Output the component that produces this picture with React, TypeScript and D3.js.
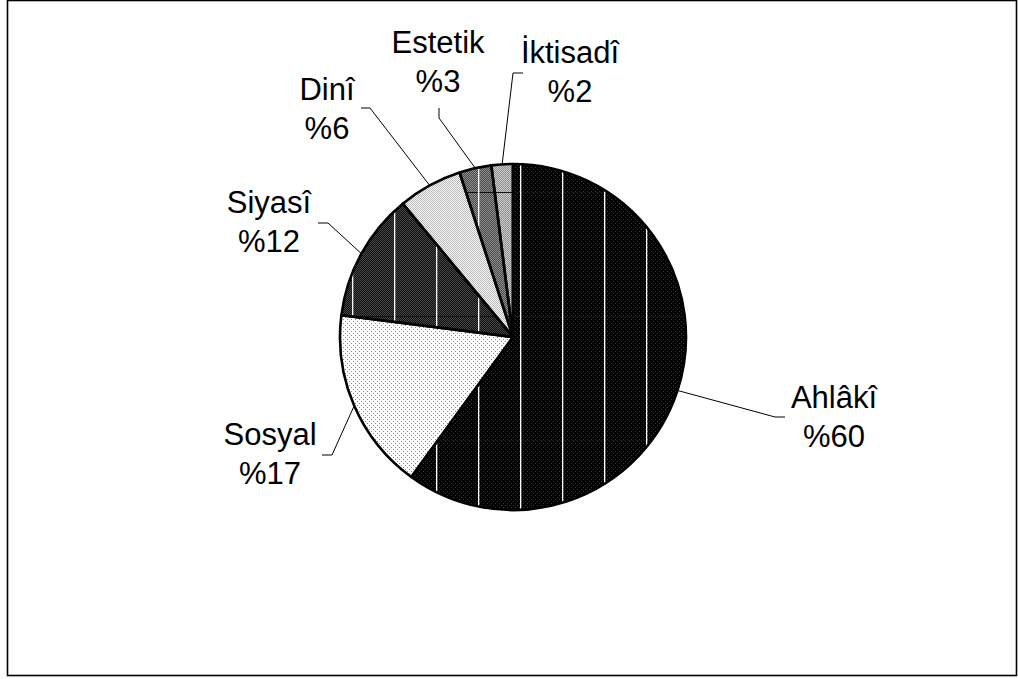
import React, { useEffect, useRef } from 'react';
import * as d3 from 'd3';

const width = 1018;
const height = 679;
const center = { x: 513, y: 337 };
const radius = 173;

// slice data, clockwise from 12 o'clock
const categories = ['Ahlâkî', 'Sosyal', 'Siyasî', 'Dinî', 'Estetik', 'İktisadî'];
const values = [60, 17, 12, 6, 3, 2];
const valueLabels = ['%60', '%17', '%12', '%6', '%3', '%2'];

// fills: base colour + dot colour, tile type
const fills = [
  { base: '#000', dot: '#3c3c3c', kind: 'dots' },
  { base: '#fff', dot: '#8a8a8a', kind: 'dots' },
  { base: '#0e0e0e', dot: '#484848', kind: 'check' },
  { base: '#fafafa', dot: '#b8b8b8', kind: 'check' },
  { base: '#4a4a4a', dot: '#8e8e8e', kind: 'check' },
  { base: '#8c8c8c', dot: '#cfcfcf', kind: 'check' },
];
const striped = [true, false, true, false, true, true];

// label layout: text centre, first baseline, leader elbow and end
const labelLayout = [
  { x: 834, y: 408, bend: [775, 417], end: [785, 417] },
  { x: 270, y: 445, bend: [332, 455], end: [322, 455] },
  { x: 269, y: 213, bend: [328, 223], end: [318, 223] },
  { x: 327, y: 100, bend: [370, 108], end: [361, 108] },
  { x: 438, y: 53, bend: [439, 118], end: [439, 108] },
  { x: 570, y: 63, bend: [513, 73], end: [523, 73] },
];

export default function App() {
  const ref = useRef<SVGSVGElement>(null);

  useEffect(() => {
    const svg = d3.select(ref.current);
    svg.selectAll('*').remove();
    const defs = svg.append('defs');

    fills.forEach((f, i) => {
      const p = defs.append('pattern')
        .attr('id', 'fill' + i)
        .attr('patternUnits', 'userSpaceOnUse')
        .attr('width', 4)
        .attr('height', 4);
      p.append('rect').attr('width', 4).attr('height', 4).attr('fill', f.base);
      const cells = f.kind === 'dots'
        ? [[0, 0], [2, 2]]
        : [[0, 0], [1, 1], [2, 0], [3, 1], [0, 2], [1, 3], [2, 2], [3, 3]];
      cells.forEach(([cx, cy]) => {
        p.append('rect').attr('x', cx).attr('y', cy).attr('width', 1).attr('height', 1).attr('fill', f.dot);
      });
    });

    // white vertical stripes + faint horizontal rules seen on the darker slices
    // (pattern space is the translated slice space, so offsets are relative to the centre)
    const stripes = defs.append('pattern')
      .attr('id', 'stripes')
      .attr('patternUnits', 'userSpaceOnUse')
      .attr('width', 42)
      .attr('height', 124);
    stripes.append('rect').attr('x', 0).attr('y', 103).attr('width', 42).attr('height', 1).attr('fill', '#111');
    stripes.append('rect').attr('x', 7).attr('y', 0).attr('width', 1.3).attr('height', 124).attr('fill', '#fff');

    const pie = d3.pie<number>().sort(null).value(d => d);
    const arcs = pie(values);
    const arc = d3.arc<d3.PieArcDatum<number>>().innerRadius(0).outerRadius(radius);

    const g = svg.append('g').attr('transform', `translate(${center.x}, ${center.y})`);

    g.selectAll('path.slice')
      .data(arcs)
      .enter().append('path')
      .attr('class', 'slice')
      .attr('d', d => arc(d))
      .attr('fill', (d, i) => `url(#fill${i})`);

    g.selectAll('path.stripe')
      .data(arcs.filter((d, i) => striped[i]))
      .enter().append('path')
      .attr('class', 'stripe')
      .attr('d', d => arc(d))
      .attr('fill', 'url(#stripes)');

    g.selectAll('path.edge')
      .data(arcs)
      .enter().append('path')
      .attr('class', 'edge')
      .attr('d', d => arc(d))
      .attr('fill', 'none')
      .attr('stroke', '#000')
      .attr('stroke-width', 2.6)
      .attr('stroke-linejoin', 'round');

    // leader lines
    const outer = d3.arc<d3.PieArcDatum<number>>().innerRadius(radius).outerRadius(radius);
    const line = d3.line();
    svg.selectAll('path.leader')
      .data(arcs)
      .enter().append('path')
      .attr('class', 'leader')
      .attr('d', (d, i) => {
        const [cx, cy] = outer.centroid(d);
        const l = labelLayout[i];
        return line([[center.x + cx, center.y + cy], l.bend as [number, number], l.end as [number, number]]);
      })
      .attr('fill', 'none')
      .attr('stroke', '#000')
      .attr('stroke-width', 1);

    const labels = svg.selectAll('text.label')
      .data(arcs)
      .enter().append('text')
      .attr('class', 'label')
      .attr('text-anchor', 'middle')
      .attr('font-family', 'Liberation Sans, Arial, sans-serif')
      .attr('font-size', 31)
      .attr('fill', '#000');

    labels.append('tspan')
      .attr('x', (d, i) => labelLayout[i].x)
      .attr('y', (d, i) => labelLayout[i].y)
      .text((d, i) => categories[i]);
    labels.append('tspan')
      .attr('x', (d, i) => labelLayout[i].x)
      .attr('y', (d, i) => labelLayout[i].y + 38.5)
      .text((d, i) => valueLabels[i]);

    // chart frame
    svg.append('rect')
      .attr('x', 7.5)
      .attr('y', 0.5)
      .attr('width', 1009)
      .attr('height', 675)
      .attr('fill', 'none')
      .attr('stroke', '#000')
      .attr('stroke-width', 1.6);
  }, []);

  return (
    <svg
      ref={ref}
      width={width}
      height={height}
      style={{ position: 'absolute', left: 0, top: 0, display: 'block', background: '#fff' }}
    />
  );
}
